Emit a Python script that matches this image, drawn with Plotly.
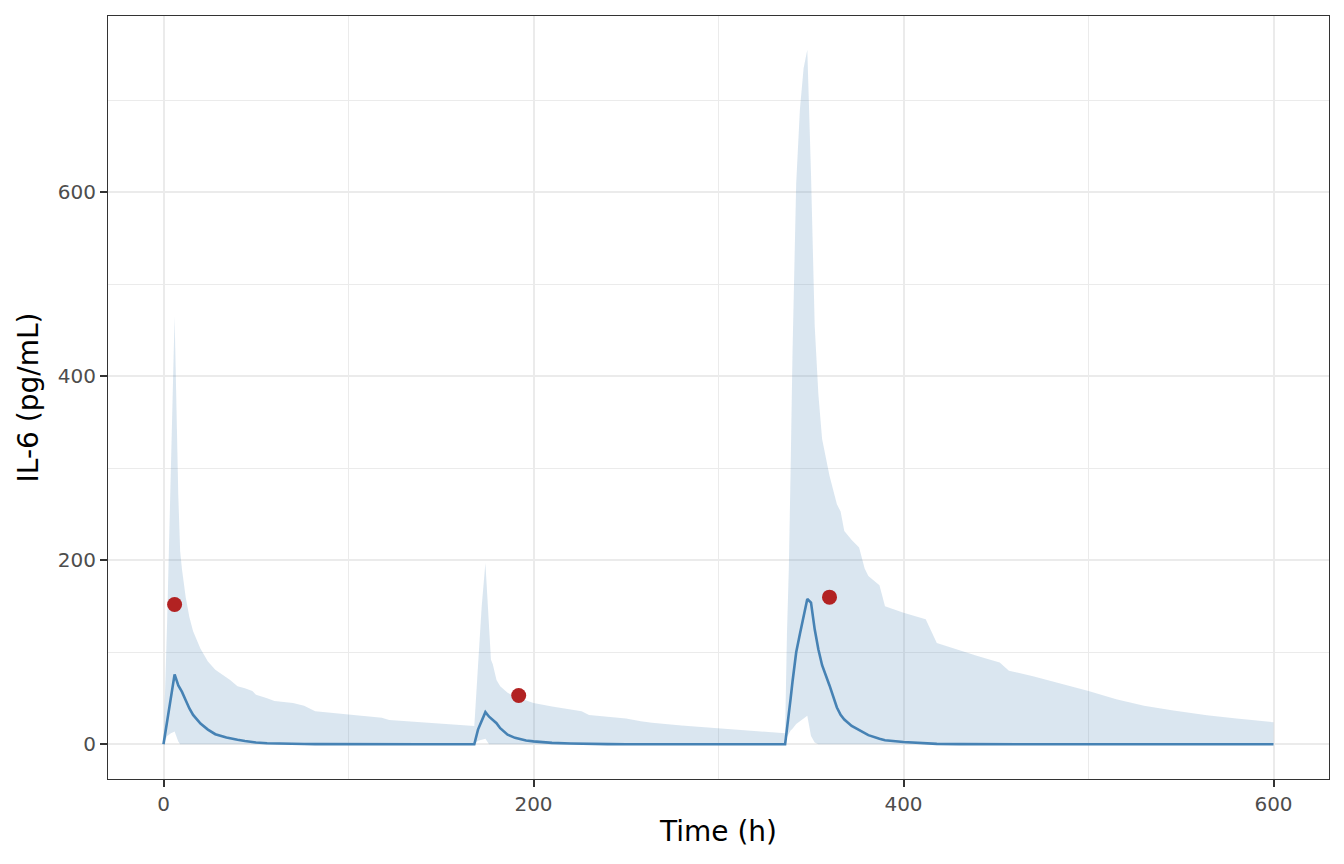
import plotly.graph_objects as go

# simulated IL-6 profile: time (h), 5th/50th/95th percentiles
time_h = [0, 1, 2, 4, 6, 8, 9, 10, 12, 14, 16, 20, 24, 28, 34, 36, 40, 44, 48, 50,
          56, 60, 70, 76, 82, 90, 100, 110, 118, 122, 140, 160, 168,
          170, 172, 174, 176, 177, 178, 180, 182, 184, 186, 190, 196, 200, 210, 220,
          226, 230, 240, 250, 258, 264, 280, 300, 320, 336,
          337, 338, 339, 340, 342, 344, 346, 348, 350, 352, 354, 356, 360, 364, 366,
          368, 372, 376, 379, 381, 387, 390, 400, 412, 418, 430, 440, 452, 457, 470,
          485, 500, 515, 530, 545, 564, 580, 600]

il6_median = [0, 12, 25, 50, 76, 64, 61, 57, 48, 39, 32, 22.5, 16, 11, 7.5, 6.5, 5, 3.6, 2.5, 2,
              1.2, 0.9, 0.5, 0.3, 0.2, 0.1, 0, 0, 0, 0, 0, 0, 0,
              16, 26, 35, 30, 28, 26, 23, 17.5, 13.5, 10.5, 7, 4.2, 3.2, 1.6, 0.9,
              0.5, 0.4, 0.2, 0.1, 0, 0, 0, 0, 0, 0,
              15, 30, 50, 68, 100, 120, 140, 158, 154, 125, 103, 86, 64, 40, 32,
              27, 20, 15.5, 12, 10, 6, 4.5, 2.5, 0.8, 0.5, 0.2, 0.1, 0, 0, 0,
              0, 0, 0, 0, 0, 0, 0, 0]

il6_lower = [0, 4, 9, 12, 14, 3, 0, 0, 0, 0, 0, 0, 0, 0, 0, 0, 0, 0, 0, 0,
             0, 0, 0, 0, 0, 0, 0, 0, 0, 0, 0, 0, 0,
             4, 5, 6, 0, 0, 0, 0, 0, 0, 0, 0, 0, 0, 0, 0,
             0, 0, 0, 0, 0, 0, 0, 0, 0, 0,
             8, 12, 15, 17, 22, 25, 28, 31, 9, 2, 0, 0, 0, 0, 0,
             0, 0, 0, 0, 0, 0, 0, 0, 0, 0, 0, 0, 0, 0, 0,
             0, 0, 0, 0, 0, 0, 0, 0]

il6_upper = [0, 60, 136, 300, 465, 270, 210, 190, 160, 138, 123, 104, 90, 81, 73, 70, 63, 61, 58, 54,
             50, 47, 45, 42, 36, 34.5, 33, 31, 29, 26.5, 24, 21, 20,
             85, 150, 197, 125, 92, 87, 70, 63, 59, 56, 52, 47.5, 45, 41, 38,
             36, 32, 30, 28, 25, 23.5, 20.5, 17.5, 14.5, 12,
             120, 190, 300, 425, 610, 690, 735, 755, 620, 455, 380, 332, 292, 261, 253,
             232, 222, 214, 191, 183, 173, 150, 143, 136, 110, 102, 96, 89, 80, 74,
             66, 58, 49, 42, 37, 31.5, 28, 24]

obs_time = [6, 192, 360]
obs_il6 = [152, 53, 160]

fig = go.Figure()
fig.add_trace(go.Scatter(x=time_h, y=il6_lower, mode="lines",
                         line=dict(width=0), hoverinfo="skip", showlegend=False))
fig.add_trace(go.Scatter(x=time_h, y=il6_upper, mode="lines", fill="tonexty",
                         fillcolor="rgba(70,130,180,0.2)", line=dict(width=0),
                         showlegend=False))
fig.add_trace(go.Scatter(x=time_h, y=il6_median, mode="lines",
                         line=dict(color="#4682B4", width=2.6), showlegend=False))
fig.add_trace(go.Scatter(x=obs_time, y=obs_il6, mode="markers",
                         marker=dict(color="#B22222", size=15), showlegend=False))

axis_style = dict(
    showgrid=True, gridcolor="#EBEBEB", gridwidth=2.4,
    minor=dict(dtick=100, showgrid=True, gridcolor="#EBEBEB", gridwidth=1.3),
    zeroline=False, showline=True, linecolor="#333333", linewidth=1.2, mirror=True,
    ticks="outside", ticklen=7, tickwidth=1.5, tickcolor="#333333",
    tickfont=dict(size=20, color="#4D4D4D"),
)

fig.update_xaxes(axis_style, range=[-30, 630], tickvals=[0, 200, 400, 600],
                 title=dict(text="Time (h)", font=dict(size=28, color="black"), standoff=6))
fig.update_yaxes(axis_style, range=[-37.7, 791.7], tickvals=[0, 200, 400, 600],
                 title=dict(text="IL-6 (pg/mL)", font=dict(size=28, color="black"), standoff=10))

# page body adds ~7px offset, margins compensate
fig.update_layout(
    width=1344, height=864,
    margin=dict(l=100, r=23, t=8, b=93),
    plot_bgcolor="white", paper_bgcolor="white",
    font=dict(family="DejaVu Sans"),
)

fig.write_html("out.html")
